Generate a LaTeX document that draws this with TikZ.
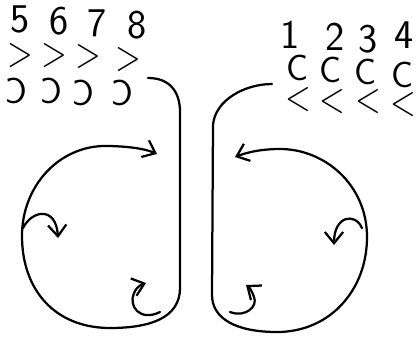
\documentclass[tikz,border=0pt]{standalone}
\usepackage{graphicx}
\usetikzlibrary{arrows.meta}
\tikzset{
  digit/.style={inner sep=0pt,font=\sffamily\fontsize{29}{31}\selectfont},
  glyph/.style={inner sep=0pt,font=\sffamily\fontsize{24}{26}\selectfont},
  cglyph/.style={inner sep=0pt,font=\sffamily\fontsize{26}{28}\selectfont},
  loopline/.style={line width=1.6pt,line cap=round,line join=round},
  turn/.style={loopline,-{Straight Barb[length=8pt,width=13pt,line width=1.6pt]}}
}
\newcommand{\tallgt}{\scalebox{1}[1.3]{>}}
\newcommand{\talllt}{\scalebox{1}[1.3]{<}}
\begin{document}
\begin{tikzpicture}[x=0.025cm,y=-0.025cm]
\useasboundingbox (0,0) rectangle (420,336);
% left group: digits, then > and reversed C
\node[digit] (n5) at (20,19) {5};
\node[digit] (n6) at (59,21) {6};
\node[digit] (n7) at (97,23) {7};
\node[digit] (n8) at (137,25) {8};
\node[glyph] (gt5) at (20,56) {\tallgt};
\node[glyph] (gt6) at (54,56) {\tallgt};
\node[glyph] (gt7) at (88,57) {\tallgt};
\node[glyph] (gt8) at (128,60) {\tallgt};
\node[cglyph] (rc5) at (17,91) {\reflectbox{C}};
\node[cglyph] (rc6) at (52,91) {\reflectbox{C}};
\node[cglyph] (rc7) at (84,93) {\reflectbox{C}};
\node[cglyph] (rc8) at (123,93) {\reflectbox{C}};
% right group: digits, then C and <
\node[digit] (n1) at (290,35) {1};
\node[digit] (n2) at (335,37) {2};
\node[digit] (n3) at (368,39) {3};
\node[digit] (n4) at (404,35) {4};
\node[cglyph] (c1) at (297,68) {C};
\node[cglyph] (c2) at (330,70) {C};
\node[cglyph] (c3) at (365,72) {C};
\node[cglyph] (c4) at (402,75) {C};
\node[glyph] (lt1) at (298,100) {\talllt};
\node[glyph] (lt2) at (332,102) {\talllt};
\node[glyph] (lt3) at (368,102) {\talllt};
\node[glyph] (lt4) at (403,105) {\talllt};
% left loop
\draw[turn] (148,78) .. controls (170,78) and (180,92) .. (180,112) -- (180,288)
  .. controls (180,318) and (150,328) .. (110,328)
  .. controls (55,328) and (22,290) .. (22,236)
  .. controls (22,185) and (60,146) .. (105,146)
  .. controls (128,146) and (146,149) .. (157,154);
\draw[turn] (23,228) .. controls (32,210) and (56,206) .. (58,238);
\draw[turn] (160,312) .. controls (140,322) and (128,306) .. (134,293)
  .. controls (136,288) and (140,285) .. (146,283);
% right loop
\draw[turn] (272,84) .. controls (245,84) and (215,100) .. (213,125) -- (212,295)
  .. controls (212,318) and (235,332) .. (277,332)
  .. controls (330,332) and (367,290) .. (367,237)
  .. controls (367,185) and (325,149) .. (280,149)
  .. controls (262,149) and (248,152) .. (235,157);
\draw[turn] (362,228) .. controls (355,212) and (334,216) .. (334,245);
\draw[turn] (230,312) .. controls (246,318) and (258,306) .. (254,297)
  .. controls (252,291) and (250,288) .. (246,285);
\end{tikzpicture}
\end{document}
